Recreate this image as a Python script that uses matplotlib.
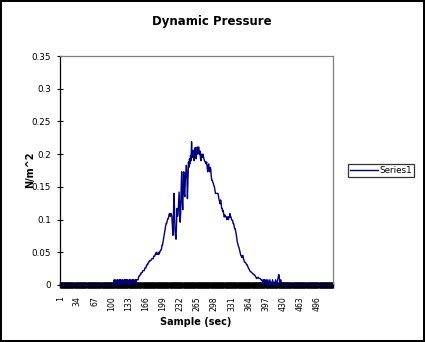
import matplotlib
matplotlib.use("Agg")
import matplotlib.pyplot as plt
from matplotlib.ticker import FixedLocator, FuncFormatter

# Dynamic pressure readings, one per sample (N/m^2)
lead_zeros = [
    0, 0, 0, 0, 0, 0, 0, 0, 0, 0, 0, 0, 0, 0, 0, 0, 0, 0, 0, 0,
    0, 0, 0, 0, 0, 0, 0, 0, 0, 0, 0, 0, 0, 0, 0, 0, 0, 0, 0, 0,
    0, 0, 0, 0, 0, 0, 0, 0, 0, 0, 0, 0, 0, 0, 0, 0, 0, 0, 0, 0,
    0, 0, 0, 0, 0, 0, 0, 0, 0, 0, 0, 0, 0, 0, 0, 0, 0, 0, 0, 0,
    0, 0, 0, 0, 0, 0, 0, 0, 0, 0, 0, 0, 0, 0, 0, 0, 0, 0, 0, 0,
    0, 0, 0,
]
early_noise = [
    0, 0.008, 0, 0.004, 0.008, 0.004, 0, 0.008, 0.008, 0.004,
    0, 0.008, 0.004, 0.008, 0, 0.004, 0.008, 0.008, 0, 0.004,
    0.008, 0.004, 0.008, 0, 0.008, 0.004, 0.008, 0.008, 0.004, 0,
    0.008, 0.004, 0.008, 0.004, 0, 0.008, 0.008, 0.004, 0.008, 0,
    0.004, 0.008, 0.008, 0.004, 0.008, 0.008, 0.008,
]
rise = [
    0.008, 0.012, 0.014, 0.014, 0.016, 0.016, 0.019, 0.019, 0.019, 0.022,
    0.022, 0.022, 0.022, 0.026, 0.026, 0.026, 0.030, 0.030, 0.032, 0.032,
    0.035, 0.035, 0.037, 0.037, 0.037, 0.038, 0.040, 0.040, 0.040, 0.040,
    0.044, 0.044, 0.044, 0.047, 0.047, 0.050, 0.047, 0.047, 0.047, 0.050,
    0.047, 0.050, 0.050, 0.053, 0.053, 0.055, 0.061, 0.061, 0.066, 0.070,
    0.076, 0.082, 0.086, 0.090, 0.094, 0.094, 0.098, 0.101, 0.101, 0.105,
    0.109, 0.109, 0.105, 0.109, 0.109, 0.105,
]
peak = [
    0.090, 0.076, 0.100, 0.140, 0.120, 0.085, 0.075, 0.070, 0.095, 0.117,
    0.105, 0.110, 0.125, 0.142, 0.120, 0.096, 0.110, 0.150, 0.173, 0.130,
    0.115, 0.150, 0.173, 0.140, 0.135, 0.160, 0.173, 0.183, 0.170, 0.132,
    0.160, 0.188, 0.180, 0.193, 0.185, 0.198, 0.190, 0.219, 0.195, 0.205,
    0.203, 0.206, 0.190, 0.200, 0.210, 0.196, 0.193, 0.205, 0.211, 0.200,
    0.205, 0.211, 0.200, 0.205, 0.195, 0.190, 0.200, 0.198, 0.195, 0.200,
    0.196, 0.192, 0.190, 0.188, 0.188, 0.185, 0.188, 0.180, 0.173, 0.182,
    0.185, 0.175, 0.173, 0.180, 0.177,
]
fall = [
    0.165, 0.160, 0.160, 0.157, 0.155, 0.152, 0.150, 0.145, 0.140, 0.140,
    0.140, 0.140, 0.140, 0.140, 0.135, 0.130, 0.128, 0.124, 0.130, 0.125,
    0.117, 0.117, 0.112, 0.114, 0.108, 0.104, 0.107, 0.106, 0.104, 0.104,
    0.100, 0.104, 0.104, 0.100, 0.104, 0.104, 0.109, 0.104, 0.104, 0.100,
    0.099, 0.099, 0.094, 0.094, 0.090, 0.086, 0.086, 0.082, 0.078, 0.072,
    0.066, 0.063, 0.060, 0.058, 0.055, 0.052, 0.048, 0.045, 0.044, 0.042,
    0.045, 0.045, 0.040, 0.038, 0.035, 0.035, 0.034, 0.033, 0.031, 0.031,
    0.029, 0.027, 0.025, 0.024, 0.022, 0.021, 0.020, 0.020, 0.019, 0.018,
    0.017, 0.017, 0.016, 0.015, 0.015, 0.013, 0.012, 0.010, 0.010, 0.011,
    0.012, 0.011, 0.010, 0.010, 0.010, 0.009, 0.008, 0.007,
]
late_noise = [
    0.008, 0.004, 0, 0.008, 0.004, 0.008, 0, 0.004, 0.008, 0.004,
    0, 0.008, 0.004, 0, 0.004, 0.008, 0, 0.004, 0.004, 0,
    0.008, 0.004, 0, 0.004, 0, 0.004, 0.008, 0.004, 0, 0.004,
    0.008, 0.012, 0.016, 0.012, 0.004, 0, 0.008, 0.004, 0,
]
tail_zeros = [
    0, 0, 0, 0, 0, 0, 0, 0, 0, 0, 0, 0, 0, 0, 0, 0, 0, 0, 0, 0,
    0, 0, 0, 0, 0, 0, 0, 0, 0, 0, 0, 0, 0, 0, 0, 0, 0, 0, 0, 0,
    0, 0, 0, 0, 0, 0, 0, 0, 0, 0, 0, 0, 0, 0, 0, 0, 0, 0, 0, 0,
    0, 0, 0, 0, 0, 0, 0, 0, 0, 0, 0, 0, 0, 0, 0, 0, 0, 0, 0, 0,
    0, 0, 0, 0, 0, 0, 0, 0, 0, 0, 0, 0, 0, 0, 0, 0, 0, 0,
]

pressure = lead_zeros + early_noise + rise + peak + fall + late_noise + tail_zeros
samples = list(range(1, len(pressure) + 1))

x_tick_labels = [1, 34, 67, 100, 133, 166, 199, 232, 265, 298, 331, 364, 397, 430, 463, 496]
y_ticks = [0, 0.05, 0.1, 0.15, 0.2, 0.25, 0.3, 0.35]

NAVY = "#000080"

fig = plt.figure(figsize=(4.25, 3.42), dpi=100)
fig.patch.set_facecolor("white")
fig.patch.set_edgecolor("black")
fig.patch.set_linewidth(1.6)

ax = fig.add_axes([60 / 425, 1 - 285 / 342, 273 / 425, 229 / 342])
ax.plot(samples, pressure, color=NAVY, lw=1.0, label="Series1", zorder=3,
        clip_on=False)

ax.set_xlim(0.5, len(pressure) + 0.5)
ax.set_ylim(0, 0.35)

# category axis: a tick mark at every category boundary, labels every 33rd
ax.xaxis.set_major_locator(FixedLocator(x_tick_labels))
ax.xaxis.set_minor_locator(FixedLocator([s + 0.5 for s in range(0, len(pressure) + 1)]))
ax.tick_params(axis="x", which="major", length=0, pad=8, labelsize=5.6,
               labelrotation=90)
ax.tick_params(axis="x", which="minor", direction="inout", length=4.5,
               width=1.0, color="black")

ax.set_yticks(y_ticks)
ax.yaxis.set_major_formatter(FuncFormatter(lambda v, p: f"{v:g}"))
ax.tick_params(axis="y", which="major", direction="inout", length=5,
               width=0.8, labelsize=6.3, pad=4)

for side in ("top", "right"):
    ax.spines[side].set_color("#808080")
    ax.spines[side].set_linewidth(0.9)
for side in ("left", "bottom"):
    ax.spines[side].set_color("black")
    ax.spines[side].set_linewidth(0.9)

fig.text(212 / 425, 1 - 21 / 342, "Dynamic Pressure", ha="center", va="center",
         fontsize=8.5, fontweight="bold")
fig.text(196 / 425, 1 - 322 / 342, "Sample (sec)", ha="center", va="center",
         fontsize=7, fontweight="bold")
fig.text(30 / 425, 1 - 170 / 342, "N/m^2", ha="center", va="center",
         rotation=90, fontsize=7, fontweight="bold")

leg = fig.legend(loc="center left", bbox_to_anchor=(348 / 425, 1 - 170.5 / 342),
                 fontsize=6.3, frameon=True, fancybox=False, shadow=False,
                 borderpad=0.25, handlelength=3.2, handletextpad=0.1,
                 borderaxespad=0)
leg.get_frame().set_edgecolor("black")
leg.get_frame().set_linewidth(0.9)

fig.savefig("out.png", dpi=100)
